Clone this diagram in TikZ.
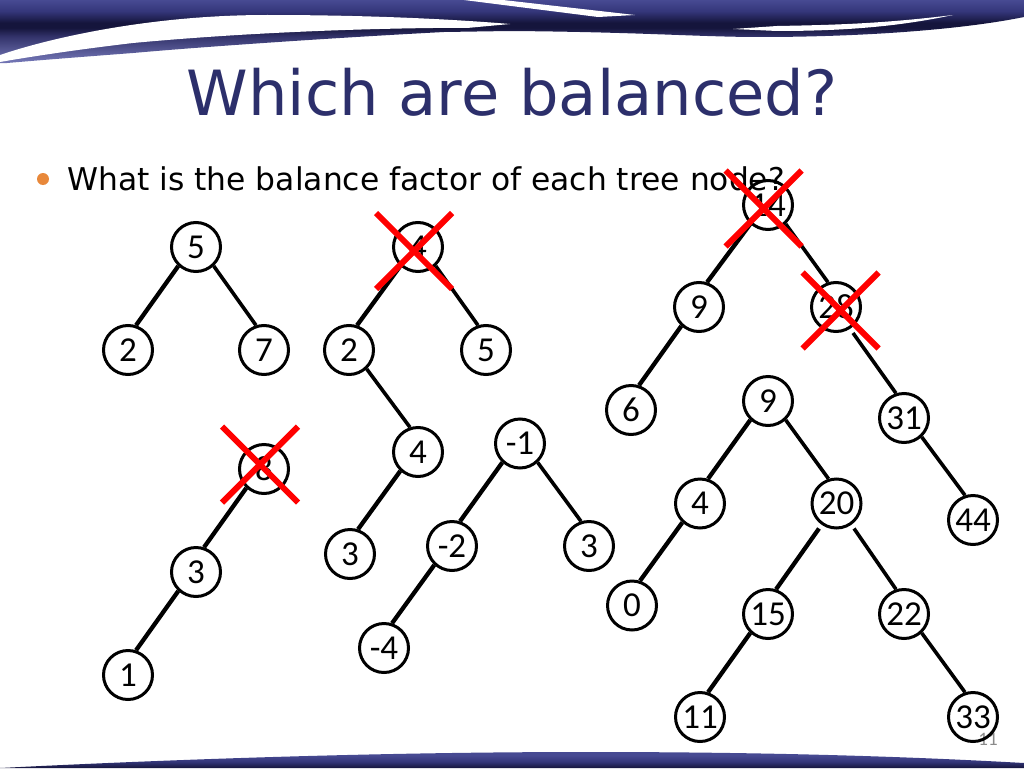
\documentclass[tikz,border=0pt]{standalone}
\usepackage{fontspec}
\setmainfont{DejaVu Sans}
\newfontfamily\nodefont{Carlito}
\usetikzlibrary{shapes.misc}
\definecolor{titleblue}{HTML}{2C2F6B}
\definecolor{bandtop}{HTML}{474A92}
\definecolor{bandmid}{HTML}{34367A}
\definecolor{banddark}{HTML}{15153C}
\definecolor{bandlow}{HTML}{33336B}
\definecolor{wedge}{HTML}{7073B2}
\definecolor{bulletorange}{HTML}{E8883A}
% TikZ maps the central 25bp--75bp of a shading onto the shaded path's box
\pgfdeclareverticalshading{topband}{100bp}{
  color(0bp)=(wedge);
  color(27bp)=(wedge);
  color(46bp)=(bandlow);
  color(53bp)=(banddark);
  color(57bp)=(banddark);
  color(66bp)=(bandmid);
  color(75bp)=(bandtop);
  color(100bp)=(bandtop)}
\pgfdeclareverticalshading{bottomband}{100bp}{
  color(0bp)=(banddark);
  color(25bp)=(banddark);
  color(45bp)=(bandmid);
  color(65bp)=(bandtop);
  color(100bp)=(bandtop)}
\tikzset{
  x=1pt,y=-1pt,
  tn/.style={circle,draw=black,line width=3pt,minimum size=49pt,inner sep=0pt,
    font=\nodefont\fontsize{35}{35}\selectfont,text=black},
  ledge/.style={draw=black,line width=4.3pt},
  redge/.style={draw=black,line width=3.6pt},
  strike/.style={cross out,draw={rgb,255:red,255;green,0;blue,0},line width=6pt,minimum width=76pt,minimum height=76pt,inner sep=0pt,outer sep=0pt},
}
\begin{document}
\begin{tikzpicture}
\useasboundingbox (0,0) rectangle (1024,768);
\fill[white] (0,0) rectangle (1024,768);
% top band
\begin{scope}
\clip (0,0) -- (1024,0) -- (1024,17) .. controls (960,30) and (860,37) .. (760,37)
  .. controls (700,37) and (640,32) .. (510,31) -- (444,32)
  .. controls (330,38) and (200,47) .. (133,53) .. controls (80,57) and (30,61) .. (7,63) -- (0,63) -- cycle;
\shade[shading=topband] (0,0) rectangle (1024,63);
\end{scope}
% white swoosh in the band
\fill[white] (0,55) .. controls (50,38) and (150,15) .. (267,15)
  .. controls (367,15) and (450,19) .. (510,24) -- (467,28) -- (433,28)
  .. controls (350,29) and (240,33) .. (133,43) .. controls (90,48) and (40,55) .. (0,62) -- cycle;
\fill[white] (464,0) -- (503,0) -- (635,15) -- (598,17) -- cycle;
\fill[white] (733,29) -- (777,26) .. controls (830,25) and (880,24) .. (953,15)
  .. controls (910,24) and (860,31) .. (777,31) -- cycle;
% bottom band
\begin{scope}
\clip (0,768) .. controls (200,758) and (400,752) .. (588,752)
  .. controls (760,752) and (900,756) .. (1024,763) -- (1024,768) -- cycle;
\shade[shading=bottomband] (0,752) rectangle (1024,768);
\end{scope}
% title and text
\node[anchor=base,text=titleblue,font=\fontsize{62.3}{62.3}\selectfont,inner sep=0pt] (title) at (512,115.5) {Which are balanced?};
\fill[bulletorange] (43,179) circle (6);
\node[anchor=base west,text=black,font=\fontsize{31.35}{31.35}\selectfont,inner sep=0pt] (body) at (67,190) {What is the balance factor of each tree node?};
\node[text=black!46,font=\nodefont\fontsize{19}{19}\selectfont,inner sep=0pt] (page) at (988,739.5) {11};
% tree 1
\node[tn] (a5) at (196,247) {5};
\node[tn] (a2) at (128,350) {2};
\node[tn] (a7) at (264,350) {7};
\draw[ledge] (a5.227)--(a2.72); \draw[redge] (a5.313)--(a7.108);
% tree 2
\node[tn] (b8) at (264,469) {8};
\node[tn] (b3) at (196,572) {3};
\node[tn] (b1) at (128,675) {1};
\draw[ledge] (b8.227)--(b3.72); \draw[ledge] (b3.227)--(b1.72);
% tree 3
\node[tn] (c4) at (418,247) {4};
\node[tn] (c2) at (349,350) {2};
\node[tn] (c5) at (486,350) {5};
\node[tn] (c4b) at (418,452) {4};
\node[tn] (c3) at (350,554) {3};
\draw[ledge] (c4.227)--(c2.72); \draw[redge] (c4.313)--(c5.108); \draw[redge] (c2.313)--(c4b.108); \draw[ledge] (c4b.227)--(c3.72);
% tree 4
\node[tn] (d1) at (520,443.5) {-1};
\node[tn] (d2) at (452,546) {-2};
\node[tn] (d3) at (589,546) {3};
\node[tn] (d4) at (384,648) {-4};
\draw[ledge] (d1.227)--(d2.72); \draw[redge] (d1.313)--(d3.108); \draw[ledge] (d2.227)--(d4.72);
% tree 5
\node[tn] (e14) at (768,205) {14};
\node[tn] (e9) at (699,307) {9};
\node[tn] (e28) at (836,307) {28};
\node[tn] (e6) at (631,410) {6};
\node[tn] (e31) at (904,418) {31};
\node[tn] (e44) at (973,520) {44};
\draw[ledge] (e14.227)--(e9.72); \draw[redge] (e14.313)--(e28.108); \draw[ledge] (e9.227)--(e6.72);
\draw[redge] ([shift={(17,26)}]e28.center)--(e31.108); \draw[redge] (e31.313)--(e44.108);
% tree 6
\node[tn] (f9) at (768,401) {9};
\node[tn] (f4) at (700,503.5) {4};
\node[tn] (f20) at (836.5,503.5) {20};
\node[tn] (f0) at (632,605.5) {0};
\node[tn] (f15) at (768,614) {15};
\node[tn] (f22) at (904,614) {22};
\node[tn] (f11) at (700,717) {11};
\node[tn] (f33) at (973,717) {33};
\draw[ledge] (f9.227)--(f4.72); \draw[redge] (f9.313)--(f20.108); \draw[ledge] (f4.227)--(f0.72);
\draw[ledge] ([shift={(-17.5,25)}]f20.center)--(f15.72); \draw[redge] ([shift={(17.5,25)}]f20.center)--(f22.108);
\draw[ledge] (f15.227)--(f11.72); \draw[redge] (f22.313)--(f33.108);
% crosses
\node[strike] (x14) at (763.5,208.5) {};
\node[strike] (x28) at (840.5,310.5) {};
\node[strike] (x4) at (414,251) {};
\node[strike] (x8) at (260,464.5) {};
\end{tikzpicture}
\end{document}
